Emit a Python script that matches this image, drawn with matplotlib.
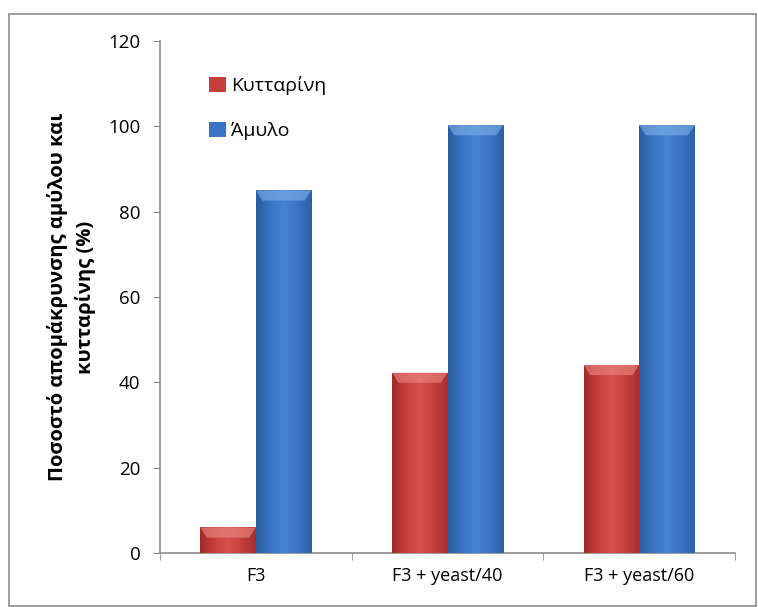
import numpy as np
import matplotlib
matplotlib.use("Agg")
import matplotlib.pyplot as plt
from matplotlib.patches import Rectangle, Polygon
from matplotlib.colors import LinearSegmentedColormap

plt.rcParams['font.family'] = ['Open Sans', 'DejaVu Sans']

categories = ["F3", "F3 + yeast/40", "F3 + yeast/60"]
cellulose = [6, 42.3, 44.1]
starch = [85, 100.3, 100.3]
series_names = ["Κυτταρίνη", "Άμυλο"]
y_ticks = [0, 20, 40, 60, 80, 100, 120]

fig = plt.figure(figsize=(7.58, 6.07), dpi=100)
ax = fig.add_axes([160 / 758, (607 - 553) / 607, (735 - 160) / 758, (553 - 41) / 607])

# outer chart border
fig.patches.append(Rectangle((9 / 758, 1 / 607), 747 / 758, (607 - 15) / 607,
                             transform=fig.transFigure, fill=False,
                             edgecolor="#8c8c8c", linewidth=1.2))

x = np.arange(len(categories))
w = 0.29

red_cmap = LinearSegmentedColormap.from_list(
    "red_grad", ["#a02c2a", "#c63f3c", "#d4524f", "#c63f3c", "#a52e2c"])
blue_cmap = LinearSegmentedColormap.from_list(
    "blue_grad", ["#2b5c9e", "#3a74c4", "#4683d0", "#3a74c4", "#2d60a5"])


def gradient_bars(bars, cmap, top_color):
    grad = np.linspace(0, 1, 256).reshape(1, -1)
    for b in bars:
        x0, y0 = b.get_x(), b.get_y()
        bw, bh = b.get_width(), b.get_height()
        im = ax.imshow(grad, cmap=cmap, aspect="auto",
                       extent=(x0, x0 + bw, y0, y0 + bh), zorder=3)
        im.set_clip_path(b)
        # lighter bevel along the top edge
        cap = min(2.4, bh * 0.4)
        inset = bw * 0.12
        ax.add_patch(Polygon([(x0, y0 + bh), (x0 + bw, y0 + bh),
                              (x0 + bw - inset, y0 + bh - cap),
                              (x0 + inset, y0 + bh - cap)],
                             closed=True, facecolor=top_color,
                             edgecolor="none", alpha=0.6, zorder=4))


b1 = ax.bar(x - w / 2, cellulose, w, color="#c63f3c", label=series_names[0],
            edgecolor="none", zorder=2)
b2 = ax.bar(x + w / 2, starch, w, color="#3a74c4", label=series_names[1],
            edgecolor="none", zorder=2)
gradient_bars(b1, red_cmap, "#ec8a86")
gradient_bars(b2, blue_cmap, "#80b1ea")

ax.set_xlim(-0.5, len(categories) - 0.5)
ax.set_ylim(0, 120)
ax.set_yticks(y_ticks)
ax.set_xticks(x)
ax.set_xticklabels(categories, fontsize=13)
ax.set_xticks(np.arange(-0.5, len(categories)), minor=True)
ax.tick_params(axis="x", which="major", length=0, pad=10)
ax.tick_params(axis="x", which="minor", length=5, color="#8c8c8c", direction="out")
ax.tick_params(axis="y", length=5, color="#8c8c8c", direction="out",
               labelsize=13.5, pad=9)

for s in ["top", "right"]:
    ax.spines[s].set_visible(False)
for s in ["left", "bottom"]:
    ax.spines[s].set_color("#8c8c8c")
    ax.spines[s].set_linewidth(1.2)

ax.set_ylabel("Ποσοστό απομάκρυνσης αμύλου και\nκυτταρίνης (%)",
              fontsize=14.5, fontweight="bold", labelpad=9, linespacing=1.4)

leg = ax.legend(loc="upper left", bbox_to_anchor=(0.055, 0.965), frameon=False,
                fontsize=14, handlelength=0.85, handleheight=0.85,
                handletextpad=0.3, labelspacing=1.35)

fig.savefig("out.png", dpi=100)
